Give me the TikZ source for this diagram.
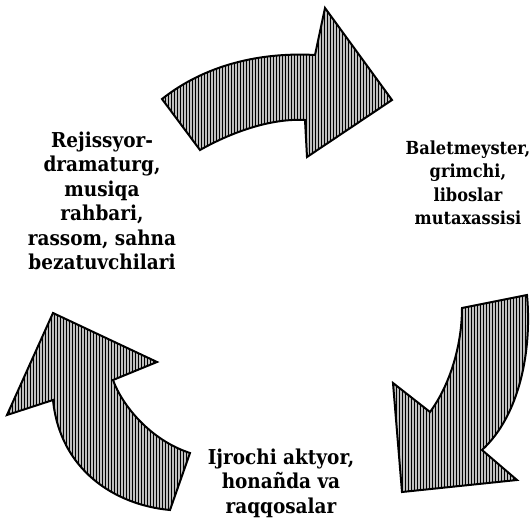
\documentclass[tikz,border=0pt]{standalone}
\usepackage{fontspec}
\setmainfont{DejaVu Serif Condensed}
\usepackage{tikz}
\usetikzlibrary{patterns}
\tikzstyle{bigarrow} = [draw=black, line width=2pt, line join=miter, preaction={fill=gray!50}, pattern=vertical lines]
\tikzstyle{crew} = [align=center, inner sep=0pt, font=\bfseries\fontsize{20.5}{24.5}\selectfont]

\begin{document}
\begin{tikzpicture}[x=1pt, y=-1pt]

    \path[use as bounding box, fill=white] (0,0) rectangle (531,519);

    \node (director) [crew] at (102,201) {Rejissyor-\\dramaturg,\\musiqa\\rahbari,\\rassom, sahna\\bezatuvchilari};
    \node (ballet) [crew, font=\bfseries\fontsize{18}{23.5}\selectfont] at (468,183) {Baletmeyster,\\grimchi,\\liboslar\\mutaxassisi};
    \node (actors) [crew] at (281,483) {Ijrochi aktyor,\\honañda va\\raqqosalar};

    \draw [bigarrow] (162,99) .. controls (205,65) and (260,52) .. (315,55) -- (325,8) -- (392,100) -- (307,157) -- (305,120) .. controls (270,118) and (230,133) .. (200,150) -- cycle;
    \draw [bigarrow] (462,308) -- (527,295) .. controls (532,350) and (520,415) .. (482,450) -- (517,480) -- (402,492) -- (393,383) -- (430,412) .. controls (450,385) and (462,345) .. (462,308) -- cycle;
    \draw [bigarrow] (53,313) -- (157,362) -- (113,380) .. controls (122,405) and (150,440) .. (190,453) -- (170,510) .. controls (115,505) and (60,470) .. (53,400) -- (7,415) -- cycle;

\end{tikzpicture}
\end{document}
